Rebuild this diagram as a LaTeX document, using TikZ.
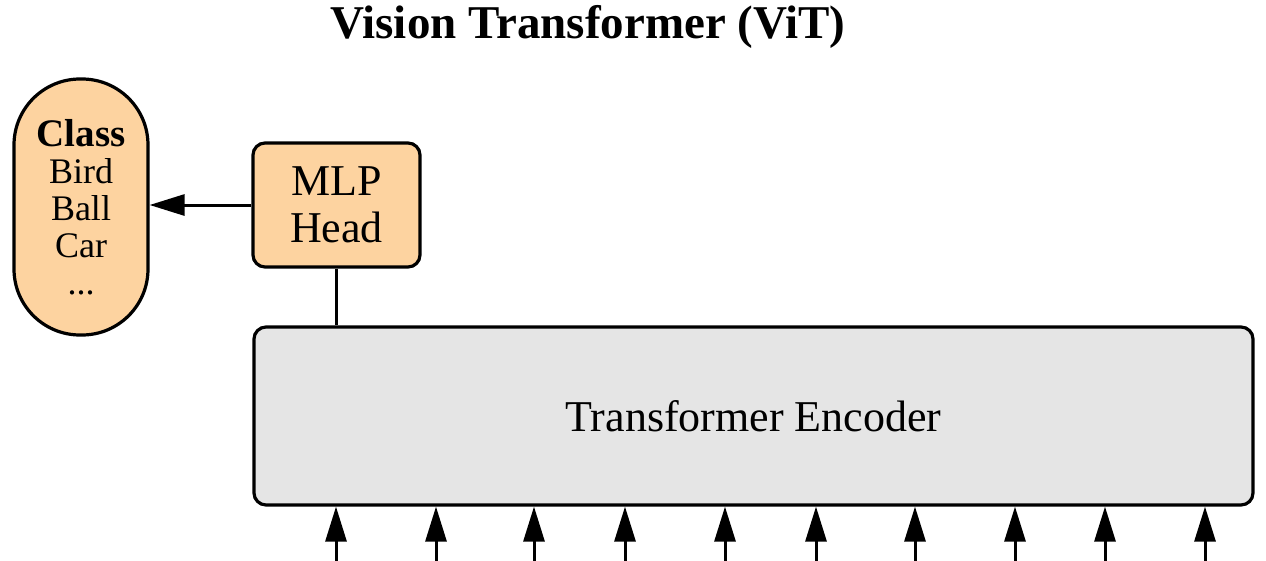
\documentclass[tikz,border=0pt]{standalone}
\usepackage{fontspec}
\setmainfont{Liberation Serif}
\usetikzlibrary{arrows.meta,calc}
\definecolor{peach}{HTML}{FDD3A0}
\definecolor{encgray}{HTML}{E5E5E5}
\begin{document}
\begin{tikzpicture}[x=1pt,y=-1pt,
  box/.style={draw=black,line width=3.2pt,rounded corners=12pt,inner sep=0pt,align=center},
  conn/.style={line width=3pt},
  arr/.style={line width=3pt,-{Triangle[length=35pt,width=21pt]}}]
\useasboundingbox (0,0) rectangle (1266,560);
\node[font=\bfseries\fontsize{47}{52}\selectfont] (title) at (588,27) {Vision Transformer (ViT)};
\node[box,fill=peach,rounded corners=66pt,minimum width=134pt,minimum height=256pt,
  font=\fontsize{36}{37}\selectfont] (cls) at (81,207)
  {{\fontsize{39}{37}\selectfont\bfseries Class}\\Bird\\Ball\\Car\\...};
\node[box,fill=peach,minimum width=167pt,minimum height=124pt,
  font=\fontsize{44}{47}\selectfont] (mlp) at (336.5,205) {MLP\\Head};
\node[box,fill=encgray,minimum width=999pt,minimum height=178pt,
  font=\fontsize{44}{47}\selectfont] (enc) at (753.5,416) {Transformer Encoder};
\draw[arr] (mlp.west) -- (mlp.west -| cls.east);
\draw[conn] (mlp.south) -- (mlp.south |- enc.north);
\foreach \i/\x in {1/336,2/436,3/534,4/625,5/725,6/816,7/915,8/1015,9/1105,10/1205}{
  \coordinate (in\i) at (\x,562);
  \draw[arr] (in\i) -- (in\i |- enc.south);
}
\end{tikzpicture}
\end{document}
